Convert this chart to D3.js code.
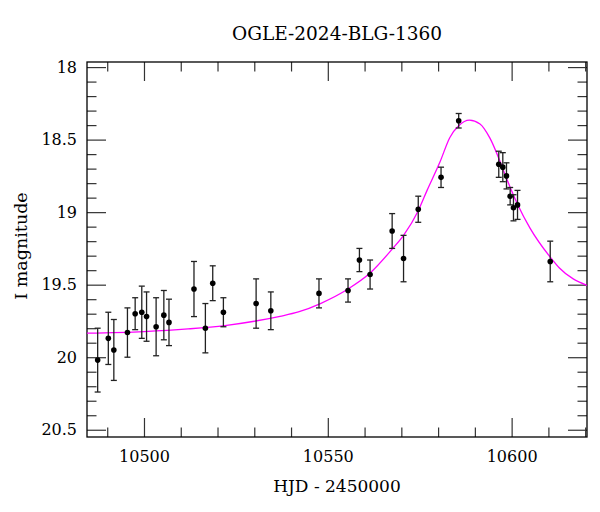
<!DOCTYPE html>
<html>
<head>
<meta charset="utf-8">
<script src="https://cdn.jsdelivr.net/npm/d3@7"></script>
<style>
  body { margin: 0; background: #fff; }
  text { font-family: "DejaVu Serif", serif; fill: #000; }
</style>
</head>
<body>
<script>
// observed photometry: HJD - 2450000, I mag, 1-sigma error
var hjd = [10487.4, 10490.3, 10491.8, 10495.5, 10497.6, 10499.4, 10500.7, 10503.3, 10505.4, 10506.8,
           10513.6, 10516.7, 10518.7, 10521.6, 10530.5, 10534.5, 10547.6, 10555.5, 10558.6, 10561.5,
           10567.5, 10570.6, 10574.6, 10580.8, 10585.6, 10596.5, 10597.6, 10598.6, 10599.6, 10600.5,
           10601.6, 10610.5];
var mag = [20.02, 19.87, 19.95, 19.83, 19.70, 19.69, 19.72, 19.79, 19.71, 19.76,
           19.53, 19.80, 19.49, 19.69, 19.63, 19.68, 19.56, 19.54, 19.33, 19.43,
           19.13, 19.32, 18.98, 18.76, 18.37, 18.67, 18.69, 18.75, 18.89, 18.97,
           18.95, 19.34];
var magErr = [0.22, 0.18, 0.21, 0.17, 0.11, 0.18, 0.17, 0.20, 0.17, 0.16,
              0.19, 0.17, 0.12, 0.10, 0.17, 0.13, 0.10, 0.08, 0.08, 0.10,
              0.12, 0.16, 0.09, 0.07, 0.05, 0.09, 0.10, 0.09, 0.06, 0.09,
              0.10, 0.14];

// model curve
var modelT = [10484.5, 10500, 10512, 10522, 10530, 10537, 10542, 10548, 10555.5, 10561.5,
              10567.5, 10570.6, 10574.6, 10577, 10580.5, 10583.2, 10585.6, 10588.5, 10591.4, 10594.1,
              10596.5, 10598.6, 10601.6, 10605, 10610.5, 10613, 10620.5];
var modelMag = [19.834, 19.823, 19.805, 19.782, 19.752, 19.718, 19.688, 19.63, 19.53, 19.42,
                19.255, 19.16, 18.99, 18.85, 18.655, 18.485, 18.405, 18.366, 18.392, 18.49,
                18.628, 18.766, 18.945, 19.11, 19.31, 19.385, 19.505];

var xMajor = [10500, 10550, 10600];
var yMajor = [18, 18.5, 19, 19.5, 20, 20.5];
var yLabels = ['18', '18.5', '19', '19.5', '20', '20.5'];

var w = 600, h = 512;
var plotL = 87, plotR = 587, plotT = 62, plotB = 437;

var svg = d3.select('body').append('svg')
    .attr('width', w)
    .attr('height', h);

var x = d3.scaleLinear().domain([10484.5, 10620.5]).range([plotL, plotR]);
var y = d3.scaleLinear().domain([17.965, 20.55]).range([plotT, plotB]);

var xMinor = d3.range(10490, 10621, 10).filter(function(v) { return xMajor.indexOf(v) < 0; });
var yMinor = d3.range(180, 206, 1).map(function(v) { return v / 10; })
    .filter(function(v) { return Math.abs(v * 2 - Math.round(v * 2)) > 1e-6; });

function addAxis(axis, tx, ty) {
    var g = svg.append('g')
        .attr('transform', 'translate(' + tx + ',' + ty + ')')
        .call(axis);
    g.select('.domain').remove();
    g.selectAll('line').attr('stroke', '#333').attr('stroke-width', 1.2);
    g.selectAll('text').style('font-family', '"DejaVu Serif", serif').style('font-size', '16px').attr('fill', '#000');
    return g;
}

// major ticks with labels
addAxis(d3.axisBottom(x).tickValues(xMajor).tickFormat(d3.format('d')).tickSize(-19).tickPadding(14), 0, plotB);
addAxis(d3.axisLeft(y).tickValues(yMajor).tickFormat(function(d, i) { return yLabels[i]; }).tickSize(-19).tickPadding(10), plotL, 0);
addAxis(d3.axisTop(x).tickValues(xMajor).tickFormat('').tickSize(-19), 0, plotT);
addAxis(d3.axisRight(y).tickValues(yMajor).tickFormat('').tickSize(-19), plotR, 0);

// minor ticks
addAxis(d3.axisBottom(x).tickValues(xMinor).tickFormat('').tickSize(-9.5), 0, plotB);
addAxis(d3.axisTop(x).tickValues(xMinor).tickFormat('').tickSize(-9.5), 0, plotT);
addAxis(d3.axisLeft(y).tickValues(yMinor).tickFormat('').tickSize(-9.5), plotL, 0);
addAxis(d3.axisRight(y).tickValues(yMinor).tickFormat('').tickSize(-9.5), plotR, 0);

// frame
svg.append('rect')
    .attr('x', plotL).attr('y', plotT)
    .attr('width', plotR - plotL).attr('height', plotB - plotT)
    .attr('fill', 'none').attr('stroke', '#000').attr('stroke-width', 1.3);

// model
var model = modelT.map(function(t, i) { return [t, modelMag[i]]; });
var line = d3.line()
    .x(function(d) { return x(d[0]); })
    .y(function(d) { return y(d[1]); })
    .curve(d3.curveMonotoneX);

svg.append('defs').append('clipPath').attr('id', 'plotclip')
    .append('rect').attr('x', plotL).attr('y', plotT).attr('width', plotR - plotL).attr('height', plotB - plotT);

svg.append('path')
    .datum(model)
    .attr('clip-path', 'url(#plotclip)')
    .attr('fill', 'none')
    .attr('stroke', '#ff00ff')
    .attr('stroke-width', 1.3)
    .attr('d', line);

// data with error bars
var data = hjd.map(function(t, i) { return { t: t, m: mag[i], e: magErr[i] }; });
var pts = svg.append('g').selectAll('g').data(data).enter().append('g');

pts.append('line')
    .attr('x1', function(d) { return x(d.t); }).attr('x2', function(d) { return x(d.t); })
    .attr('y1', function(d) { return y(d.m - d.e); }).attr('y2', function(d) { return y(d.m + d.e); })
    .attr('stroke', '#222').attr('stroke-width', 1.3);
pts.append('line')
    .attr('x1', function(d) { return x(d.t) - 3; }).attr('x2', function(d) { return x(d.t) + 3; })
    .attr('y1', function(d) { return y(d.m - d.e); }).attr('y2', function(d) { return y(d.m - d.e); })
    .attr('stroke', '#222').attr('stroke-width', 1.3);
pts.append('line')
    .attr('x1', function(d) { return x(d.t) - 3; }).attr('x2', function(d) { return x(d.t) + 3; })
    .attr('y1', function(d) { return y(d.m + d.e); }).attr('y2', function(d) { return y(d.m + d.e); })
    .attr('stroke', '#222').attr('stroke-width', 1.3);
pts.append('circle')
    .attr('cx', function(d) { return x(d.t); })
    .attr('cy', function(d) { return y(d.m); })
    .attr('r', 2.8)
    .attr('fill', '#000');

// titles
svg.append('text')
    .attr('x', (plotL + plotR) / 2).attr('y', 40)
    .attr('text-anchor', 'middle')
    .style('font-size', '18.5px')
    .text('OGLE-2024-BLG-1360');

svg.append('text')
    .attr('x', (plotL + plotR) / 2).attr('y', 492)
    .attr('text-anchor', 'middle')
    .style('font-size', '17px')
    .text('HJD - 2450000');

svg.append('text')
    .attr('transform', 'translate(27,246) rotate(-90)')
    .attr('text-anchor', 'middle')
    .style('font-size', '17.5px')
    .text('I magnitude');
</script>
</body>
</html>
